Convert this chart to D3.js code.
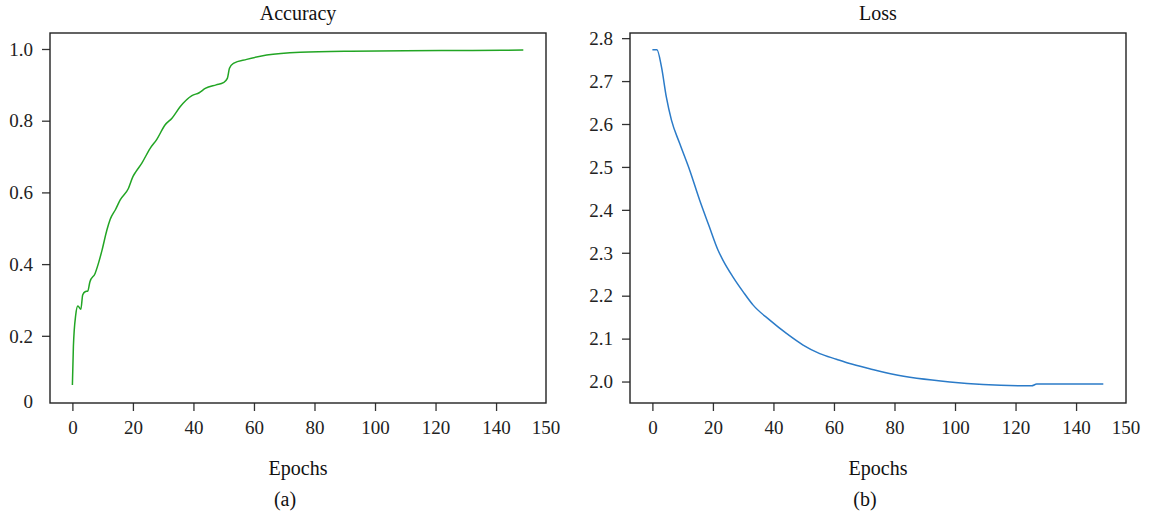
<!DOCTYPE html>
<html>
<head>
<meta charset="utf-8">
<script src="https://cdn.jsdelivr.net/npm/d3@7"></script>
<style>
  body { margin: 0; background: #fff; }
  svg { display: block; }
</style>
</head>
<body>
<svg id="chart" width="1149" height="522"></svg>
<script>
// values
var accEpochs = [0, 0.33, 1.1, 1.8, 2.8, 3.4, 4.2, 5.1, 5.8, 7.5, 8.6, 9.8, 11.4, 12.5, 14.3, 15.8, 18.5, 20, 21, 22.9,
	25.7, 27.9, 30.6, 32.9, 35.6, 39.5, 41.9, 43.9, 47.5, 49.9, 51.2, 51.9, 53.2, 57.6, 64.2, 75.3, 92, 110, 130, 149];
var accValues = [0.063, 0.17, 0.258, 0.283, 0.274, 0.314, 0.323, 0.325, 0.351, 0.374, 0.402, 0.439, 0.495, 0.525, 0.553, 0.579, 0.611, 0.644, 0.658, 0.681,
	0.723, 0.748, 0.788, 0.807, 0.839, 0.870, 0.878, 0.89, 0.90, 0.906, 0.918, 0.946, 0.96, 0.971, 0.983, 0.991, 0.994, 0.995, 0.996, 0.997];

var lossEpochs = [0, 1.5, 3, 4.6, 6.3, 9, 12.3, 15.6, 18.7, 21.7, 23.3, 26.6, 30, 33.3, 38.8, 44.3, 49.8, 55.3, 60.8, 65.2, 71.8,
	79.5, 98.3, 109.3, 125.3, 127, 149];
var lossValues = [2.773, 2.773, 2.733, 2.663, 2.609, 2.555, 2.493, 2.423, 2.363, 2.306, 2.283, 2.244, 2.209, 2.178, 2.143, 2.112, 2.085, 2.065, 2.052, 2.042, 2.030,
	2.017, 1.999, 1.993, 1.990, 1.994, 1.994];

var xTicks = [0, 20, 40, 60, 80, 100, 120, 140];
var accTicks = [0.2, 0.4, 0.6, 0.8, 1.0];
var lossTicks = [2.0, 2.1, 2.2, 2.3, 2.4, 2.5, 2.6, 2.7, 2.8];

var serif = '"Liberation Serif", "DejaVu Serif", serif';
var svg = d3.select('#chart');

function drawPanel(opt) {
	var x = d3.scaleLinear().domain([-7.4, 156.5]).range([opt.left, opt.right]),
		y = d3.scaleLinear().domain(opt.yDomain).range([opt.bottom, opt.top]),
		g = svg.append('g');

	// x axis
	var xa = g.append('g')
		.attr('transform', 'translate(0,' + opt.bottom + ')')
		.call(d3.axisBottom(x).tickValues(xTicks).tickSize(8).tickFormat(d3.format('d')));
	xa.selectAll('text').attr('dy', null).attr('y', 31);
	xa.append('text')
		.attr('x', opt.right).attr('y', 31)
		.attr('text-anchor', 'middle')
		.text('150');

	// y axis
	var ya = g.append('g')
		.attr('transform', 'translate(' + opt.left + ',0)')
		.call(d3.axisLeft(y).tickValues(opt.yTicks).tickSize(8).tickPadding(9).tickFormat(d3.format('.1f')));
	ya.selectAll('text').attr('dy', '0.33em');
	if (opt.zeroLabel) {
		ya.append('text')
			.attr('x', -17).attr('y', opt.bottom - 1).attr('dy', '0.33em')
			.attr('text-anchor', 'end')
			.text('0');
	}
	xa.attr('font-family', serif).attr('font-size', 19);
	ya.attr('font-family', serif).attr('font-size', 19);
	g.selectAll('g text')
		.style('font-family', serif)
		.style('font-size', '19px')
		.style('fill', '#222');
	g.selectAll('.domain').remove();
	g.selectAll('.tick line').attr('stroke', '#333').attr('stroke-width', 1.3);

	// frame
	g.append('rect')
		.attr('x', opt.left).attr('y', opt.top)
		.attr('width', opt.right - opt.left).attr('height', opt.bottom - opt.top)
		.attr('fill', 'none').attr('stroke', '#222').attr('stroke-width', 1.4);

	var line = d3.line()
		.x(function(d) { return x(d[0]); })
		.y(function(d) { return y(d[1]); })
		.curve(d3.curveMonotoneX);

	g.append('path')
		.datum(d3.zip(opt.epochs, opt.values))
		.attr('d', line)
		.attr('fill', 'none')
		.attr('stroke', opt.color)
		.attr('stroke-width', 1.5);

	var cx = (opt.left + opt.right) / 2;
	var labels = [
		{ text: opt.title, x: cx, y: 20 },
		{ text: 'Epochs', x: cx, y: 475 },
		{ text: opt.tag, x: cx - 13, y: 506 }
	];
	g.selectAll('.label')
			.data(labels)
		.enter().append('text')
			.attr('class', 'label')
			.attr('x', function(d) { return d.x; })
			.attr('y', function(d) { return d.y; })
			.attr('text-anchor', 'middle')
			.style('font-family', serif)
			.style('font-size', '20px')
			.style('fill', '#111')
			.text(function(d) { return d.text; });
}

drawPanel({
	left: 50, right: 546, top: 33, bottom: 403,
	yDomain: [0.0126, 1.0446], yTicks: accTicks, zeroLabel: true,
	epochs: accEpochs, values: accValues,
	color: '#22a524', title: 'Accuracy', tag: '(a)'
});

drawPanel({
	left: 630, right: 1126, top: 33, bottom: 403,
	yDomain: [1.950, 2.812], yTicks: lossTicks, zeroLabel: false,
	epochs: lossEpochs, values: lossValues,
	color: '#2b7bc8', title: 'Loss', tag: '(b)'
});
</script>
</body>
</html>
